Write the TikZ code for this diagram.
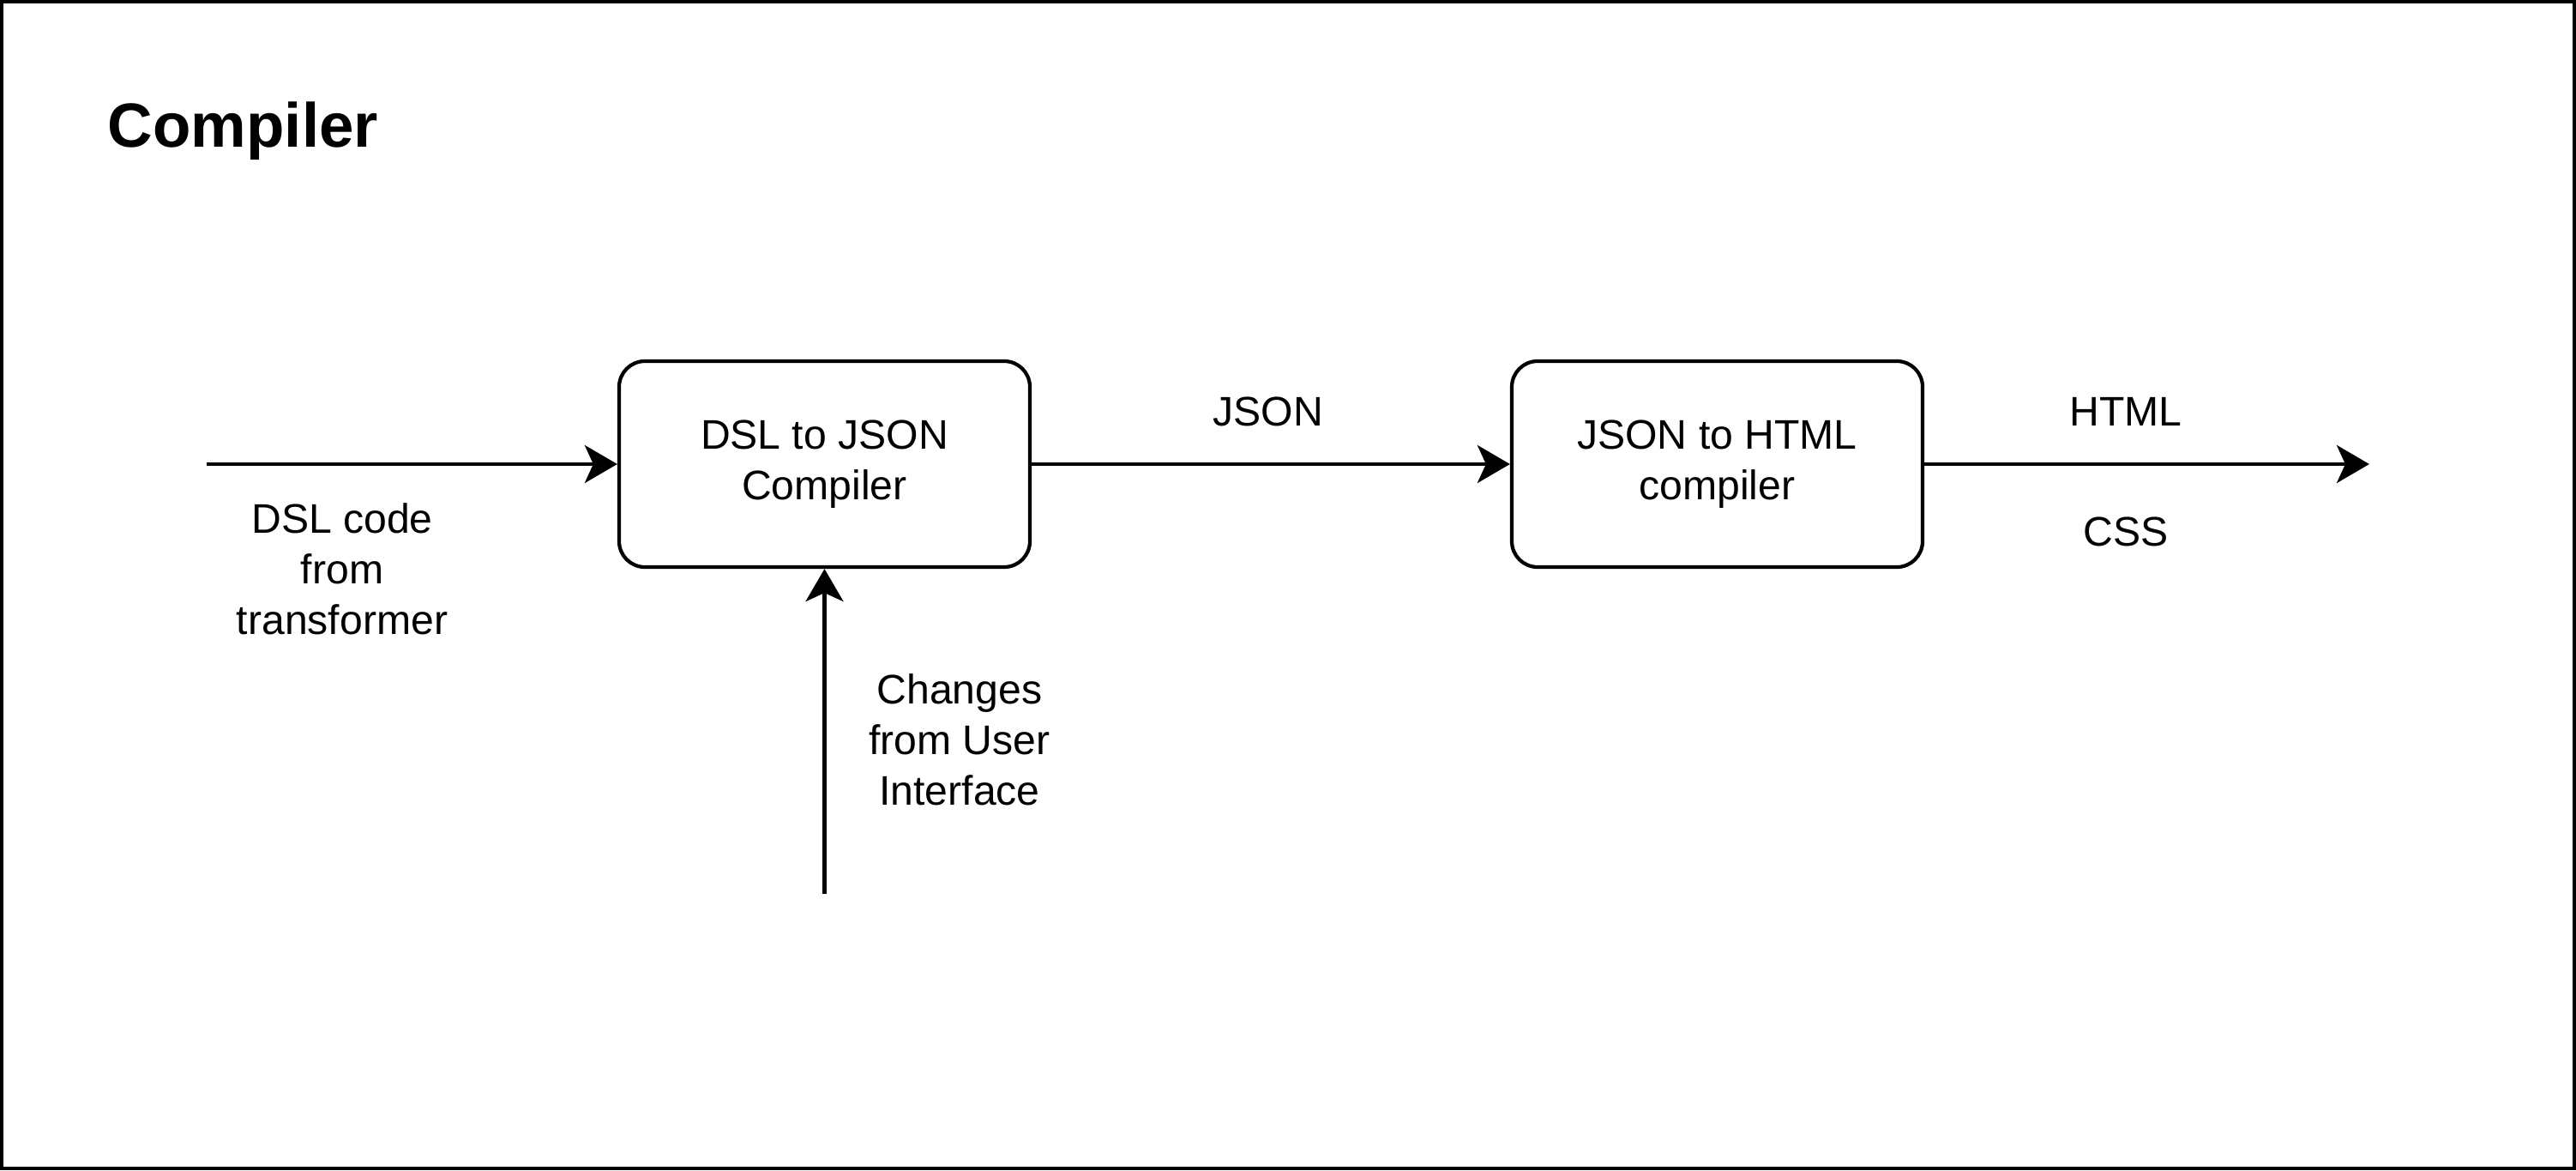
\documentclass[tikz,border=0pt]{standalone}
\usepackage{fontspec}
\setmainfont{Liberation Sans}
\usetikzlibrary{arrows.meta}
\tikzset{
  block/.style={draw, line width=1.2pt, rounded corners=0.3cm, minimum width=4.79cm, minimum height=2.40cm, align=center, font=\fontsize{13.7}{16.8}\selectfont},
  lbl/.style={align=center, font=\fontsize{13.7}{16.8}\selectfont},
  flow/.style={line width=1.2pt, -{Stealth[length=0.38cm, width=0.44cm, inset=0.1cm]}}
}
\begin{document}
\begin{tikzpicture}
\useasboundingbox (0,0) rectangle (30.04,13.64);
\draw[line width=1.2pt] (0.02,0.02) rectangle (30.02,13.62);
\node[anchor=base west, inner sep=0pt, font=\fontsize{20.7}{24}\selectfont\bfseries] (title) at (1.25,11.92) {Compiler};
\node[block] (dsl) at (9.615,8.23) {DSL to JSON\\Compiler};
\node[block] (html) at (20.025,8.23) {JSON to HTML\\compiler};
\coordinate (src) at (2.41,8.23);
\coordinate (out) at (27.63,8.23);
\coordinate (ui) at (9.615,3.22);
\draw[flow] (src) -- (dsl);
\draw[flow] (dsl) -- (html);
\draw[flow] (html) -- (out);
\draw[flow] (ui) -- (dsl);
\node[lbl] (srclbl) at (3.99,7.01) {DSL code\\from\\transformer};
\node[lbl] (jsonlbl) at (14.79,8.84) {JSON};
\node[lbl] (htmllbl) at (24.79,8.84) {HTML};
\node[lbl] (csslbl) at (24.79,7.44) {CSS};
\node[lbl] (uilbl) at (11.19,5.02) {Changes\\from User\\Interface};
\end{tikzpicture}
\end{document}
